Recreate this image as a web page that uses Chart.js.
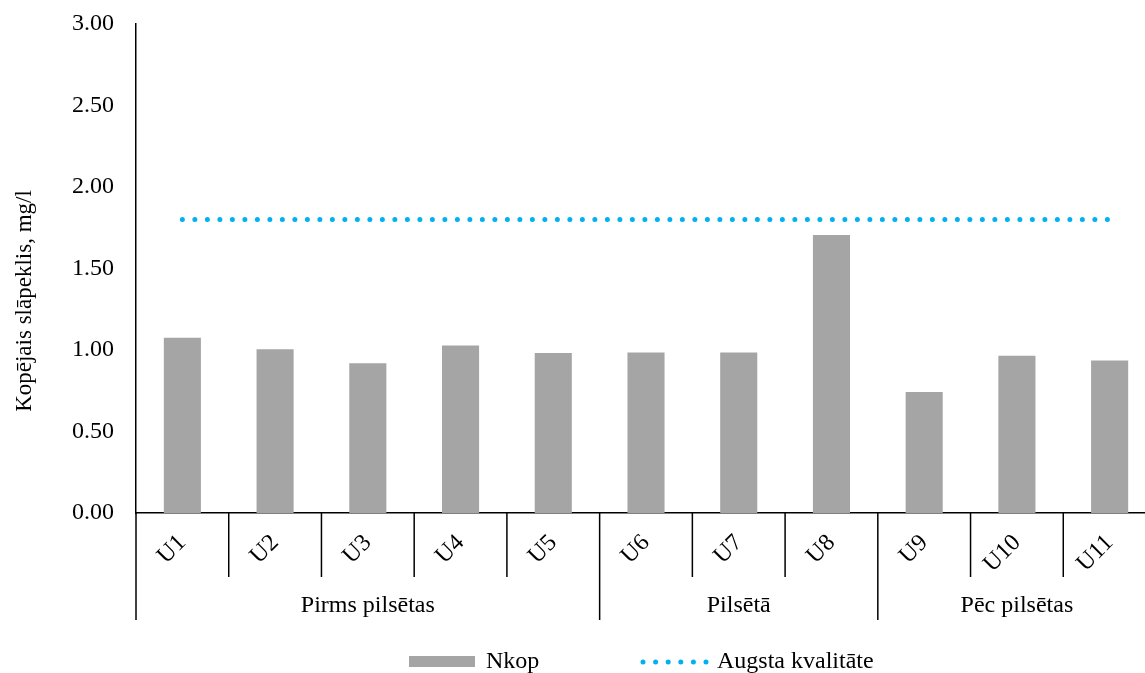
<!DOCTYPE html>
<html>
<head>
<meta charset="utf-8">
<script src="https://cdn.jsdelivr.net/npm/chart.js@4.4.1/dist/chart.umd.min.js"></script>
<style>
html,body{margin:0;padding:0;overflow:hidden;background:#fff;}
#wrap{position:relative;width:1156px;height:673px;}
</style>
</head>
<body>
<div id="wrap"><canvas id="c"></canvas></div>
<script>
// ---- data ----
const categories = ['U1','U2','U3','U4','U5','U6','U7','U8','U9','U10','U11'];
const groupLabels = ['Pirms pilsētas','Pilsētā','Pēc pilsētas'];
const groupSizes = [5,3,3];
const nkopValues = [1.075,1.004,0.918,1.028,0.981,0.985,0.985,1.706,0.743,0.964,0.936];
const augstaKvalitate = [1.8,1.8,1.8,1.8,1.8,1.8,1.8,1.8,1.8,1.8,1.8];
const seriesNames = ['Nkop','Augsta kvalitāte'];
const yAxisTitle = 'Kopējais slāpeklis, mg/l';
const yMin = 0, yMax = 3, yStep = 0.5;

const FONT = "'Liberation Serif','Times New Roman',serif";
const BAR_COLOR = '#A5A5A5';
const LINE_COLOR = '#00B0F0';

const extras = {
  id: 'extras',
  afterDraw(chart) {
    const ctx = chart.ctx;
    const x = chart.scales.x;
    const area = chart.chartArea;
    const axisY = area.bottom;
    ctx.save();
    ctx.strokeStyle = '#000';
    ctx.lineWidth = 1.5;
    // boundaries
    const n = categories.length;
    const bounds = [];
    for (let i = 0; i <= n; i++) {
      if (i === 0) bounds.push(area.left);
      else if (i === n) bounds.push(area.right);
      else bounds.push((x.getPixelForValue(i - 1) + x.getPixelForValue(i)) / 2);
    }
    const groupEdges = [0];
    groupSizes.reduce((acc, s) => { acc += s; groupEdges.push(acc); return acc; }, 0);
    for (let i = 0; i <= n; i++) {
      const isGroup = groupEdges.includes(i);
      ctx.beginPath();
      ctx.moveTo(bounds[i], axisY);
      ctx.lineTo(bounds[i], isGroup ? 620 : 577);
      ctx.stroke();
    }
    // group labels
    ctx.fillStyle = '#000';
    ctx.font = '24px ' + FONT;
    ctx.textAlign = 'center';
    ctx.textBaseline = 'middle';
    for (let g = 0; g < groupLabels.length; g++) {
      const cx = (bounds[groupEdges[g]] + bounds[groupEdges[g + 1]]) / 2;
      ctx.fillText(groupLabels[g], cx, 606);
    }
    // y axis title
    ctx.save();
    ctx.translate(25, 301);
    ctx.rotate(-Math.PI / 2);
    ctx.font = '23px ' + FONT;
    ctx.fillText(yAxisTitle, 0, 0);
    ctx.restore();
    // legend
    ctx.fillStyle = BAR_COLOR;
    ctx.fillRect(409, 656, 66, 11);
    ctx.fillStyle = '#000';
    ctx.textAlign = 'left';
    ctx.font = '24px ' + FONT;
    ctx.fillText(seriesNames[0], 486, 662);
    ctx.strokeStyle = LINE_COLOR;
    ctx.lineWidth = 5;
    ctx.lineCap = 'round';
    ctx.setLineDash([0, 12.6]);
    ctx.beginPath();
    ctx.moveTo(643, 662);
    ctx.lineTo(707, 662);
    ctx.stroke();
    ctx.setLineDash([]);
    ctx.fillText(seriesNames[1], 717, 662);
    ctx.restore();
  }
};

new Chart(document.getElementById('c'), {
  type: 'bar',
  data: {
    labels: categories,
    datasets: [
      {
        type: 'bar',
        label: seriesNames[0],
        data: nkopValues,
        backgroundColor: BAR_COLOR,
        barPercentage: 0.4,
        categoryPercentage: 1,
        order: 2
      },
      {
        type: 'line',
        label: seriesNames[1],
        data: augstaKvalitate,
        borderColor: LINE_COLOR,
        borderWidth: 5,
        borderDash: [0, 12.5],
        borderCapStyle: 'round',
        pointRadius: 0,
        fill: false,
        order: 1
      }
    ]
  },
  options: {
    responsive: true,
    maintainAspectRatio: false,
    animation: false,
    layout: { padding: { top: 24, right: 0, bottom: 0, left: 0 } },
    plugins: { legend: { display: false }, tooltip: { enabled: false } },
    scales: {
      x: {
        grid: { display: false, drawTicks: false },
        border: { display: true, color: '#000', width: 1.5 },
        ticks: {
          color: '#000',
          font: { family: FONT, size: 24 },
          maxRotation: 45,
          minRotation: 45,
          autoSkip: false,
          padding: 16
        },
        afterFit(s) { s.height = 160; s.paddingLeft = 0; s.paddingRight = 0; }
      },
      y: {
        min: yMin,
        max: yMax,
        grid: { display: false, drawTicks: false },
        border: { display: true, color: '#000', width: 1.5 },
        ticks: {
          stepSize: yStep,
          color: '#000',
          font: { family: FONT, size: 24 },
          padding: 22,
          callback: v => Number(v).toFixed(2)
        },
        afterFit(s) { s.width = 136; s.paddingTop = 0; s.paddingBottom = 0; }
      }
    }
  },
  plugins: [extras]
});
</script>
</body>
</html>
